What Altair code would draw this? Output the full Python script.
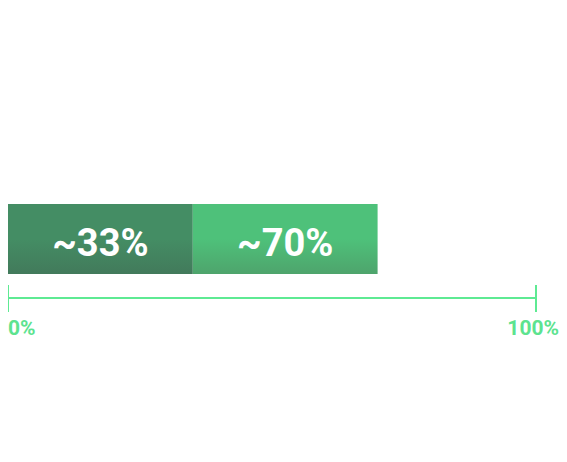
import altair as alt
import pandas as pd

# data
seg_start = [0, 35]
seg_end = [35, 70]
seg_label = ["~33%", "~70%"]
seg_name = ["a", "b"]
tick_values = [0, 100]
tick_labels = ["0%", "100%"]

segs = pd.DataFrame({"start": seg_start, "end": seg_end, "label": seg_label, "name": seg_name})
ticks = pd.DataFrame({"v": tick_values, "t": tick_labels})
axis_df = pd.DataFrame({"a": [tick_values[0]], "b": [tick_values[1]]})

xs = alt.Scale(domain=[0, 100], range=[0, 528])

def grad(top, bottom):
    return alt.Gradient(
        gradient="linear", x1=0, y1=0, x2=0, y2=1,
        stops=[alt.GradientStop(color=top, offset=0),
               alt.GradientStop(color=top, offset=0.5),
               alt.GradientStop(color=bottom, offset=1)])

base = alt.Chart(segs)

bar_a = base.transform_filter(alt.datum.name == "a").mark_bar(
    color=grad("#448D64", "#427A5B"), cornerRadius=0
).encode(
    x=alt.X("start:Q", scale=xs, axis=None), x2="end:Q",
    y=alt.value(196), y2=alt.value(266))

bar_b = base.transform_filter(alt.datum.name == "b").mark_bar(
    color=grad("#4EC17A", "#4EA46C"), cornerRadius=0
).encode(
    x=alt.X("start:Q", scale=xs, axis=None), x2="end:Q",
    y=alt.value(196), y2=alt.value(266))

labels = base.transform_calculate(mid="(datum.start + datum.end) / 2").mark_text(
    font="Roboto", fontWeight="bold", fontSize=38, color="#FFFFFF",
    align="center", baseline="alphabetic"
).encode(x=alt.X("mid:Q", scale=xs), y=alt.value(248), text="label:N")

axis_line = alt.Chart(axis_df).mark_rule(color="#5EEA93", strokeWidth=2).encode(
    x=alt.X("a:Q", scale=xs), x2="b:Q", y=alt.value(290))

tick_marks = alt.Chart(ticks).mark_rule(color="#5EEA93", strokeWidth=2).encode(
    x=alt.X("v:Q", scale=xs), y=alt.value(277), y2=alt.value(304))

tick_text0 = alt.Chart(ticks).transform_filter(alt.datum.v == 0).mark_text(
    font="Roboto", fontWeight="bold", fontSize=21, color="#5DE38F",
    align="left", baseline="alphabetic", dx=0
).encode(x=alt.X("v:Q", scale=xs), y=alt.value(327), text="t:N")

tick_text1 = alt.Chart(ticks).transform_filter(alt.datum.v == 100).mark_text(
    font="Roboto", fontWeight="bold", fontSize=21, color="#5DE38F",
    align="right", baseline="alphabetic", dx=23
).encode(x=alt.X("v:Q", scale=xs), y=alt.value(327), text="t:N")

chart = alt.layer(bar_a, bar_b, labels, axis_line, tick_marks, tick_text0, tick_text1).properties(
    width=551, height=446, autosize=alt.AutoSizeParams(type="none"), padding=0
).configure(background="#FFFFFF").configure_view(strokeWidth=0, stroke="transparent")

chart.save("out.html", embed_options={"renderer": "svg", "actions": False})
